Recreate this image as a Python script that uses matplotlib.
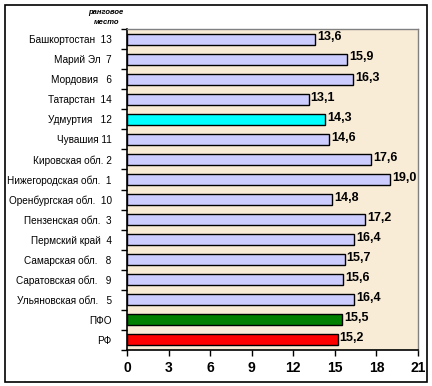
import matplotlib
matplotlib.use("Agg")
import matplotlib.pyplot as plt
from matplotlib.patches import Rectangle
import numpy as np

categories = ["Башкортостан  13", "Марий Эл  7", "Мордовия   6", "Татарстан  14",
              "Удмуртия   12", "Чувашия 11", "Кировская обл. 2", "Нижегородская обл.  1",
              "Оренбургская обл.  10", "Пензенская обл.  3", "Пермский край  4",
              "Самарская обл.   8", "Саратовская обл.   9", "Ульяновская обл.   5",
              "ПФО", "РФ"]
values = [13.6, 15.9, 16.3, 13.1, 14.3, 14.6, 17.6, 19.0, 14.8, 17.2, 16.4, 15.7, 15.6, 16.4, 15.5, 15.2]
colors = ["#CCCCFF"] * 4 + ["#00FFFF"] + ["#CCCCFF"] * 9 + ["#008000", "#FF0000"]
xticks = [0, 3, 6, 9, 12, 15, 18, 21]

W, H = 432, 386
fig = plt.figure(figsize=(W / 100, H / 100), dpi=100)
fig.patch.set_facecolor("white")
fig.patches.append(Rectangle((5 / W, 1 - 382 / H), 422 / W, 377 / H, transform=fig.transFigure,
                             fill=False, edgecolor="black", linewidth=1.2))

ax = fig.add_axes([127 / W, 1 - 350 / H, (418 - 127) / W, (350 - 29) / H])
ax.set_facecolor("#F9ECD6")

n = len(categories)
y = np.arange(n)
ax.barh(y, values, height=0.55, color=colors, edgecolor="black", linewidth=1.0, zorder=3)
for yi, v in zip(y, values):
    ax.text(v + 0.15, yi - 0.08, f"{v:.1f}".replace(".", ","), va="center", ha="left",
            fontsize=9, fontweight="bold", family="Liberation Sans", zorder=4)

ax.set_ylim(n - 0.5, -0.5)
ax.set_xlim(0, 21)
ax.set_xticks(xticks)
ax.set_xticklabels([str(t) for t in xticks], fontsize=10, fontweight="bold", family="Liberation Sans")
ax.tick_params(axis="x", direction="out", length=4, width=1, pad=4)

ax.set_yticks(np.arange(n + 1) - 0.5)
ax.set_yticklabels([])
ax.tick_params(axis="y", which="major", direction="out", length=4, width=1)
ax.set_yticks(y, minor=True)
ax.set_yticklabels(categories, minor=True, fontsize=7.2, family="Liberation Sans")
ax.tick_params(axis="y", which="minor", length=0, pad=11)

for s in ["top", "right"]:
    ax.spines[s].set_color("#808080")
    ax.spines[s].set_linewidth(1)
for s in ["left", "bottom"]:
    ax.spines[s].set_color("black")
    ax.spines[s].set_linewidth(1.2)

fig.text(106 / W, 1 - 13 / H, "ранговое", ha="center", va="center", fontsize=5.5,
         style="italic", fontweight="bold", family="Liberation Sans")
fig.text(107 / W, 1 - 22 / H, "место", ha="center", va="center", fontsize=5.5,
         style="italic", fontweight="bold", family="Liberation Sans")

fig.savefig("out.png", dpi=100)
